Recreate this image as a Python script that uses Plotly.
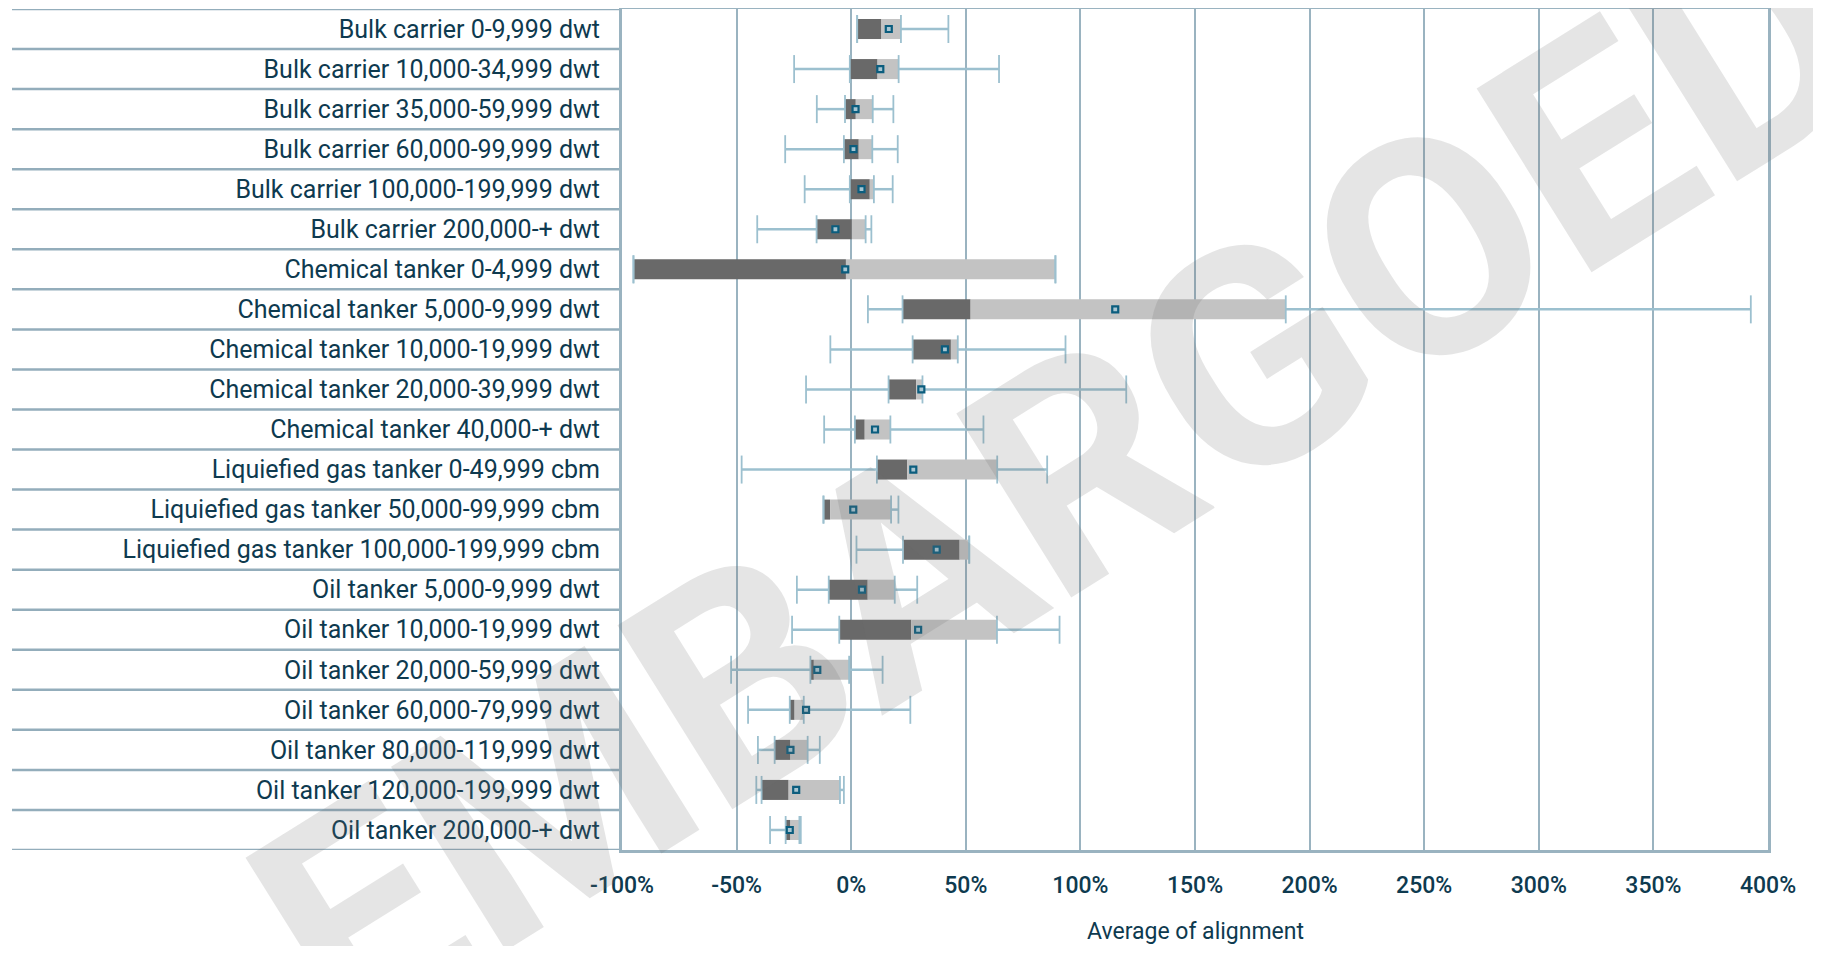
import plotly.graph_objects as go

categories = [
    "Bulk carrier 0-9,999 dwt",
    "Bulk carrier 10,000-34,999 dwt",
    "Bulk carrier 35,000-59,999 dwt",
    "Bulk carrier 60,000-99,999 dwt",
    "Bulk carrier 100,000-199,999 dwt",
    "Bulk carrier 200,000-+ dwt",
    "Chemical tanker 0-4,999 dwt",
    "Chemical tanker 5,000-9,999 dwt",
    "Chemical tanker 10,000-19,999 dwt",
    "Chemical tanker 20,000-39,999 dwt",
    "Chemical tanker 40,000-+ dwt",
    "Liquiefied gas tanker 0-49,999 cbm",
    "Liquiefied gas tanker 50,000-99,999 cbm",
    "Liquiefied gas tanker 100,000-199,999 cbm",
    "Oil tanker 5,000-9,999 dwt",
    "Oil tanker 10,000-19,999 dwt",
    "Oil tanker 20,000-59,999 dwt",
    "Oil tanker 60,000-79,999 dwt",
    "Oil tanker 80,000-119,999 dwt",
    "Oil tanker 120,000-199,999 dwt",
    "Oil tanker 200,000-+ dwt",
]

minimum = [2.6, -24.9, -15.0, -28.8, -20.3, -41.0, -95.0, 7.3, -9.1, -19.7, -11.8,
           -47.8, -12.1, 2.3, -23.7, -25.8, -52.4, -45.0, -40.7, -41.4, -35.4]
q1 = [2.6, -0.6, -2.7, -3.2, -0.6, -15.1, -95.0, 22.4, 26.8, 16.3, 1.6,
      11.2, -12.1, 22.6, -9.8, -5.2, -17.8, -26.8, -33.4, -39.1, -28.6]
median = [13.2, 11.5, 2.0, 3.3, 8.1, 0.3, -2.3, 52.1, 43.5, 28.3, 5.9,
          24.5, -9.2, 47.3, 7.2, 26.2, -16.3, -24.7, -26.5, -27.3, -26.5]
q3 = [21.7, 20.7, 9.4, 9.2, 9.9, 6.3, 89.1, 189.6, 46.5, 31.1, 17.1,
      63.7, 17.4, 51.5, 19.0, 63.6, -0.9, -20.7, -19.0, -4.9, -22.6]
maximum = [42.4, 64.5, 18.4, 20.3, 18.1, 8.8, 89.1, 392.5, 93.5, 120.0, 57.7,
           85.5, 20.6, 51.5, 28.8, 90.9, 13.7, 25.8, -13.7, -3.2, -22.0]
mean = [16.4, 12.7, 1.9, 1.0, 4.5, -6.9, -2.6, 115.2, 40.9, 30.6, 10.4,
        27.1, 0.9, 37.3, 4.7, 29.2, -14.8, -19.7, -26.5, -24.0, -26.8]

x_ticks = [-100, -50, 0, 50, 100, 150, 200, 250, 300, 350, 400]
x_tick_labels = [f"{v}%" for v in x_ticks]
x_title = "Average of alignment"
watermark = "EMBARGOED"

TEXT = "#0e3a4f"
FRAME = "#9ab3c0"
WHISK = "#9cc0cf"
DARK = "#696969"
LIGHT = "#c3c3c3"

fig = go.Figure()

wx, wy = [], []
for c, mn, a, b, mx in zip(categories, minimum, q1, q3, maximum):
    if mn < a:
        wx += [mn, a, None]
        wy += [c, c, None]
    if mx > b:
        wx += [b, mx, None]
        wy += [c, c, None]

fig.add_trace(go.Bar(
    y=categories, x=[m - a for a, m in zip(q1, median)], base=q1,
    orientation="h", width=0.5, marker=dict(color=DARK, line=dict(width=0)),
    showlegend=False, hoverinfo="skip"))
fig.add_trace(go.Bar(
    y=categories, x=[b - m for m, b in zip(median, q3)], base=median,
    orientation="h", width=0.5, marker=dict(color=LIGHT, line=dict(width=0)),
    showlegend=False, hoverinfo="skip"))

fig.add_trace(go.Scatter(
    x=wx, y=wy, mode="lines", line=dict(color=WHISK, width=2.5),
    showlegend=False, hoverinfo="skip"))

cx, cy = [], []
for c, mn, a, b, mx in zip(categories, minimum, q1, q3, maximum):
    cx += [mn, a, b, mx]
    cy += [c, c, c, c]
fig.add_trace(go.Scatter(
    x=cx, y=cy, mode="markers",
    marker=dict(symbol="line-ns", size=20, line=dict(color=WHISK, width=1.8)),
    showlegend=False, hoverinfo="skip"))

fig.add_trace(go.Scatter(
    x=mean, y=categories, mode="markers",
    marker=dict(symbol="square", size=6, color="#a8c6d2",
                line=dict(color="#0b5d7e", width=2.2)),
    showlegend=False, hoverinfo="skip"))

# figure is offset 8px by the page body margin
W, H = 1805, 938
L, R, T, B = 614, 45, 1, 96
pw = W - L - R
ph = H - T - B
shapes = []
for i in range(len(categories) + 1):
    shapes.append(dict(type="line", xref="paper", yref="y",
                       x0=-(L - 4) / pw, x1=0, y0=i - 0.5, y1=i - 0.5,
                       line=dict(color="#93adbb", width=2.5), layer="below"))

fig.update_layout(
    width=W, height=H,
    margin=dict(l=L, r=R, t=T, b=B, autoexpand=False),
    paper_bgcolor="white", plot_bgcolor="white",
    barmode="overlay",
    shapes=shapes,
    font=dict(family="Roboto", color=TEXT),
    xaxis=dict(
        range=[-100, 400], tickvals=x_ticks, ticktext=x_tick_labels,
        showgrid=True, gridcolor=FRAME, gridwidth=2,
        showline=True, linecolor=FRAME, linewidth=3, mirror=True,
        zeroline=False, ticks="", ticklabelstandoff=12, automargin=False,
        tickfont=dict(family="Roboto", size=23, color=TEXT, weight=500),
    ),
    yaxis=dict(
        categoryorder="array", categoryarray=categories,
        range=[len(categories) - 0.5, -0.5],
        showgrid=False, showline=True, linecolor=FRAME, linewidth=3, mirror=True,
        zeroline=False, ticks="", ticklabelstandoff=14, automargin=False,
        tickfont=dict(family="Roboto", size=25, color=TEXT),
    ),
    annotations=[
        dict(text=x_title, xref="paper", yref="paper", x=0.5, y=-81 / ph,
             xanchor="center", yanchor="middle", showarrow=False,
             font=dict(family="Roboto", size=23, color=TEXT)),
        dict(text=watermark, xref="paper", yref="paper",
             x=(1053 - L) / pw, y=1 - (472 - T) / ph,
             xanchor="center", yanchor="middle", showarrow=False, textangle=-32,
             font=dict(family="Roboto", size=305, color="rgba(110,110,110,0.18)", weight=700)),
    ],
)

fig.write_html("out.html")
